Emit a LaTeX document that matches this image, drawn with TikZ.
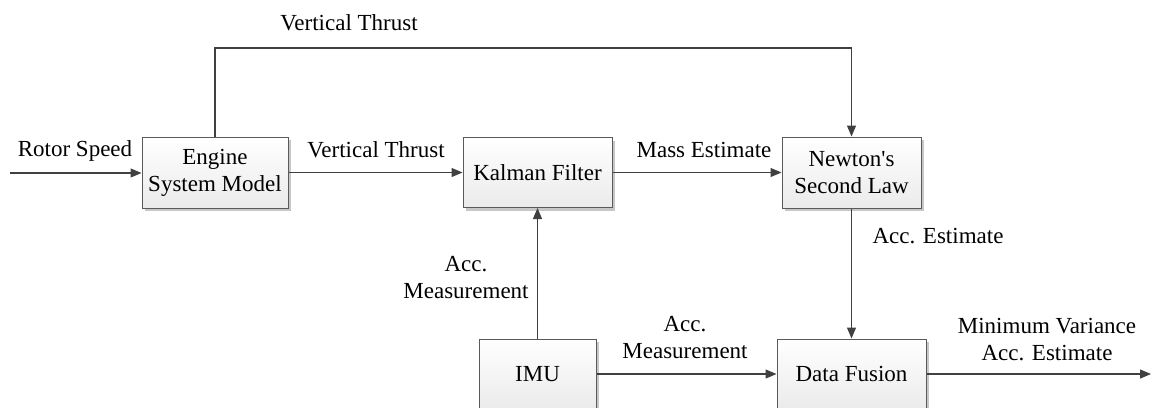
\documentclass[tikz,border=0pt]{standalone}
\usepackage{fontspec}
\setmainfont{Liberation Serif}
\usetikzlibrary{arrows.meta,shadows}
\definecolor{linec}{HTML}{404040}
\definecolor{boxline}{HTML}{5A5A5A}
\tikzset{
  every node/.style={font=\fontsize{23}{27}\selectfont},
  blockbox/.style={draw=boxline, line width=1pt, top color=white, bottom color=gray!16,
    drop shadow={shadow xshift=3pt, shadow yshift=-3pt, fill=black, opacity=0.22},
    align=center, inner sep=2pt},
  conn/.style={draw=linec, line width=1.2pt},
  arr/.style={conn, -{Triangle[length=11pt,width=9pt]}},
  lbl/.style={inner sep=0pt, align=center, anchor=base}
}
\begin{document}
\begin{tikzpicture}[x=1pt,y=-1pt]
\useasboundingbox (0,0) rectangle (1154,407);
% blocks
\node[blockbox, minimum width=146pt, minimum height=71pt] (eng) at (215,172.5) {Engine\\System Model};
\node[blockbox, minimum width=149pt, minimum height=70pt] (kal) at (537.5,172.5) {Kalman Filter};
\node[blockbox, minimum width=139pt, minimum height=71pt] (newt) at (851.5,172.5) {Newton\textquotesingle s\\Second Law};
\node[blockbox, minimum width=117pt, minimum height=70pt] (imu) at (537.5,374) {IMU};
\node[blockbox, minimum width=149pt, minimum height=70pt] (df) at (851.5,374) {Data Fusion};
% free ends
\coordinate (rsin) at (10,173);
\coordinate (tl) at (215,48);
\coordinate (out) at (1151,374);
% connectors
\draw[arr] (rsin) -- (eng.west |- rsin);
\draw[arr] (eng.east) -- (kal.west);
\draw[arr] (kal.east) -- (newt.west);
\draw[arr] (eng.north) -- (tl) -| (newt.north);
\draw[arr] (newt.south) -- (df.north);
\draw[arr] (imu.north) -- (kal.south);
\draw[arr] (imu.east) -- (df.west);
\draw[arr] (df.east) -- (out);
% labels (base = baseline of last line)
\node[lbl] (lrs) at (75,156) {Rotor Speed};
\node[lbl] (lvt1) at (349,30) {Vertical Thrust};
\node[lbl] (lvt2) at (376,157) {Vertical Thrust};
\node[lbl] (lme) at (704,157) {Mass Estimate};
\node[lbl] (lae) at (938,243) {Acc. Estimate};
\node[lbl] (lam1) at (466,298) {Acc.\\Measurement};
\node[lbl] (lam2) at (685,358) {Acc.\\Measurement};
\node[lbl] (lmv) at (1047,360) {Minimum Variance\\Acc. Estimate};
\end{tikzpicture}
\end{document}
